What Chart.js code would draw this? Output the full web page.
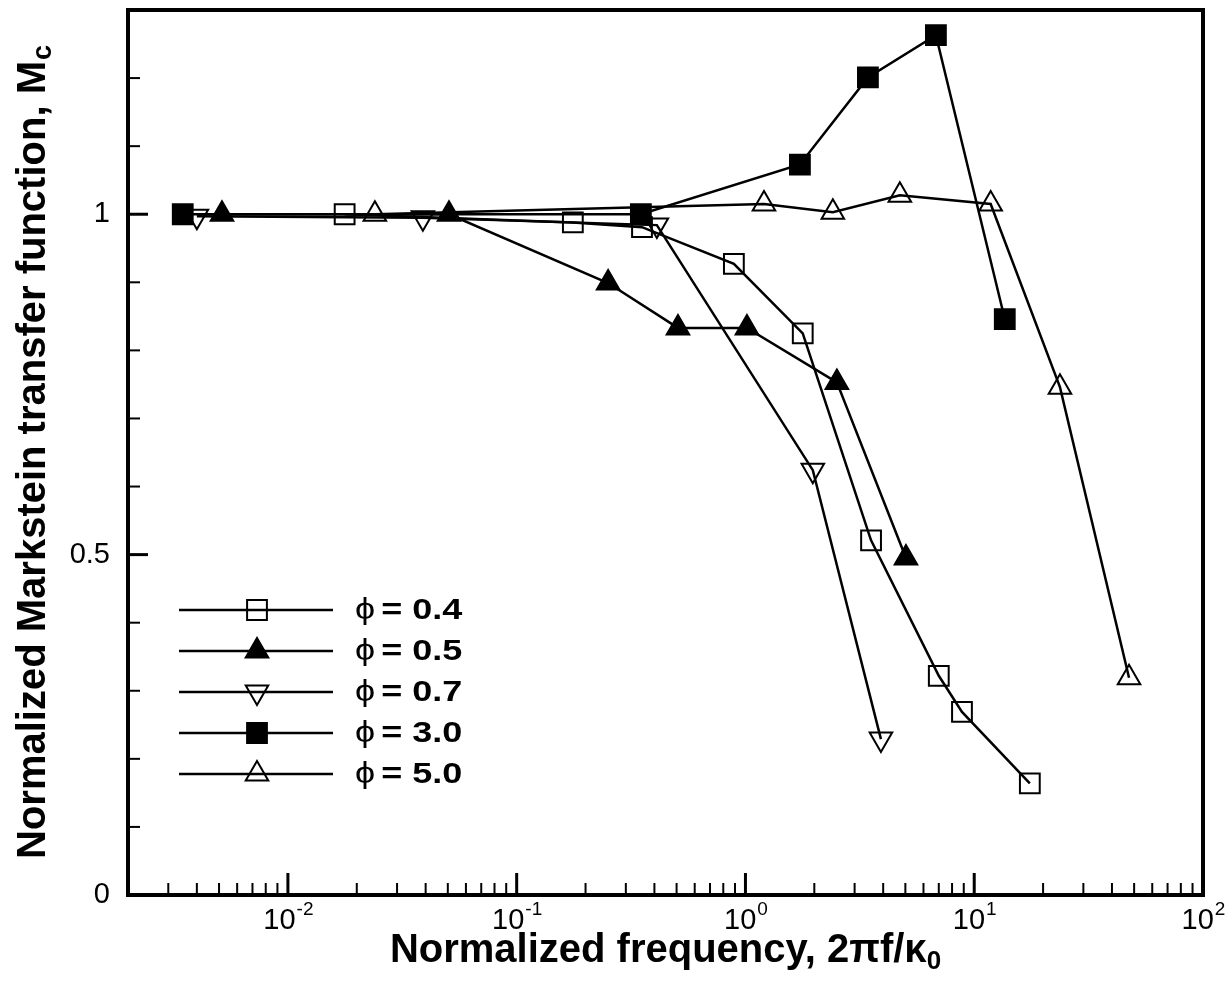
<!DOCTYPE html>
<html lang="en">
<head>
<meta charset="UTF-8">
<title>Normalized Markstein transfer function</title>
<script src="https://cdn.jsdelivr.net/npm/chart.js"></script>
<style>
    body {
        margin: 0;
        background: white;
    }

    .chart-container {
        width: 1232px;
        height: 984px;
    }
</style>
</head>
<body>
<div class="chart-container">
    <canvas id="mcChart" width="1232" height="984"></canvas>
</div>

<script>
    // values (x = 2*pi*f/kappa0, y = Mc)
    const phiLabels = ["0.4", "0.5", "0.7", "3.0", "5.0"];

    const freq04 = [0.0177, 0.176, 0.353, 0.89, 1.78, 3.54, 7.0, 8.84, 17.5];
    const mc04   = [1.0, 0.988, 0.981, 0.927, 0.825, 0.521, 0.322, 0.269, 0.164];

    const freq05 = [0.00515, 0.0506, 0.251, 0.507, 1.015, 2.51, 5.03];
    const mc05   = [1.0, 1.0, 0.899, 0.833, 0.833, 0.753, 0.495];

    const freq07 = [0.0040, 0.0389, 0.41, 1.97, 3.91];
    const mc07   = [0.997, 0.995, 0.984, 0.624, 0.229];

    const freq30 = [0.00347, 0.349, 1.73, 3.43, 6.8, 13.6];
    const mc30   = [1.0, 1.0, 1.073, 1.201, 1.263, 0.846];

    const freq50 = [0.024, 1.205, 2.41, 4.73, 11.8, 23.7, 47.5];
    const mc50   = [1.0, 1.015, 1.003, 1.028, 1.015, 0.746, 0.319];

    const xExponents = [-2, -1, 0, 1, 2];
    const yTickLabels = ["0", "0.5", "1"];

    const FONT = "'Liberation Sans', Arial, Helvetica, sans-serif";

    function pts(xs, ys) {
        return xs.map((v, i) => ({ x: v, y: ys[i] }));
    }

    function series(i, xs, ys, style, filled, rotation, radius) {
        return {
            label: "\u03d5 = " + phiLabels[i],
            data: pts(xs, ys),
            borderColor: "black",
            borderWidth: 2.5,
            pointStyle: style,
            pointRotation: rotation,
            pointRadius: radius,
            pointBorderWidth: 2,
            pointBorderColor: "black",
            pointBackgroundColor: filled ? "black" : "rgba(0,0,0,0)",
            fill: false,
            tension: 0
        };
    }

    // ticks, frame, labels, titles and the inset legend
    const framePlugin = {
        id: "frame",
        afterDatasetsDraw(chart) {
            const ctx = chart.ctx;
            const a = chart.chartArea;
            const xs = chart.scales.x;
            const ys = chart.scales.y;
            ctx.save();
            ctx.strokeStyle = "black";
            ctx.fillStyle = "black";

            // x ticks, pointing in
            for (let d = -3; d <= 2; d++) {
                for (let m = 1; m <= 9; m++) {
                    const v = m * Math.pow(10, d);
                    if (v < xs.min * 0.999 || v > xs.max * 1.001) continue;
                    const px = xs.getPixelForValue(v);
                    ctx.lineWidth = m === 1 ? 3 : 2;
                    const len = m === 1 ? 22 : 12;
                    ctx.beginPath();
                    ctx.moveTo(px, a.bottom);
                    ctx.lineTo(px, a.bottom - len);
                    ctx.stroke();
                }
            }

            // y ticks
            for (let k = 0; k <= 13; k++) {
                const v = k / 10;
                const py = ys.getPixelForValue(v);
                const major = k % 5 === 0;
                ctx.lineWidth = major ? 3 : 2;
                ctx.beginPath();
                ctx.moveTo(a.left, py);
                ctx.lineTo(a.left + (major ? 20 : 12), py);
                ctx.stroke();
            }

            // frame
            ctx.lineWidth = 4;
            ctx.strokeRect(a.left, a.top, a.right - a.left, a.bottom - a.top);

            // x tick labels 10^n
            ctx.textBaseline = "alphabetic";
            ctx.textAlign = "left";
            xExponents.forEach(e => {
                const px = xs.getPixelForValue(Math.pow(10, e));
                ctx.font = "29px " + FONT;
                const w1 = ctx.measureText("10").width;
                const ex = e < 0 ? "-" + (-e) : String(e);
                ctx.font = "19px " + FONT;
                const w2 = ctx.measureText(ex).width;
                const x0 = px - (w1 + w2) / 2;
                ctx.font = "29px " + FONT;
                ctx.fillText("10", x0, a.bottom + 34);
                ctx.font = "19px " + FONT;
                ctx.fillText(ex, x0 + w1 + 1, a.bottom + 20);
            });

            // y tick labels
            ctx.font = "29px " + FONT;
            ctx.textAlign = "right";
            ctx.textBaseline = "middle";
            yTickLabels.forEach(t => {
                ctx.fillText(t, a.left - 18, ys.getPixelForValue(parseFloat(t)));
            });

            // x axis title
            ctx.textAlign = "left";
            ctx.textBaseline = "alphabetic";
            const xt = "Normalized frequency, 2\u03c0f/\u03ba";
            ctx.font = "bold 40px " + FONT;
            const xw = ctx.measureText(xt).width;
            ctx.font = "bold 26px " + FONT;
            const xsw = ctx.measureText("0").width;
            const xStart = (a.left + a.right) / 2 - (xw + xsw) / 2;
            ctx.font = "bold 40px " + FONT;
            ctx.fillText(xt, xStart, 962);
            ctx.font = "bold 26px " + FONT;
            ctx.fillText("0", xStart + xw, 969);

            // y axis title
            ctx.save();
            ctx.translate(45, (a.top + a.bottom) / 2);
            ctx.rotate(-Math.PI / 2);
            const yt = "Normalized Markstein transfer function, M";
            ctx.font = "bold 40px " + FONT;
            const yw = ctx.measureText(yt).width;
            ctx.font = "bold 27px " + FONT;
            const ysw = ctx.measureText("c").width;
            const yStart = -(yw + ysw) / 2;
            ctx.font = "bold 40px " + FONT;
            ctx.fillText(yt, yStart, 0);
            ctx.font = "bold 27px " + FONT;
            ctx.fillText("c", yStart + yw + 1, 6);
            ctx.restore();

            // legend inside the plot
            chart.data.datasets.forEach((ds, i) => {
                const ly = 610 + i * 41;
                ctx.strokeStyle = "black";
                ctx.lineWidth = ds.borderWidth;
                ctx.beginPath();
                ctx.moveTo(179, ly);
                ctx.lineTo(333, ly);
                ctx.stroke();
                ctx.fillStyle = ds.pointBackgroundColor;
                ctx.lineWidth = ds.pointBorderWidth;
                Chart.helpers.drawPoint(ctx, {
                    pointStyle: ds.pointStyle,
                    rotation: ds.pointRotation,
                    radius: ds.pointRadius,
                    borderWidth: ds.pointBorderWidth
                }, 257, ly);

                ctx.save();
                ctx.translate(355, ly + 1);
                ctx.scale(1.2, 1);
                ctx.fillStyle = "black";
                ctx.textAlign = "left";
                ctx.textBaseline = "middle";
                ctx.font = "30px " + FONT;
                ctx.fillText("\u03d5", 0, 0);
                const pw = ctx.measureText("\u03d5").width;
                ctx.font = "bold 30px " + FONT;
                ctx.fillText("= " + phiLabels[i], pw + 5, 0);
                ctx.restore();
            });

            ctx.restore();
        }
    };

    const ctx = document.getElementById("mcChart").getContext("2d");
    const mcChart = new Chart(ctx, {
        type: "line",
        data: {
            datasets: [
                series(0, freq04, mc04, "rect", false, 0, 14),
                series(1, freq05, mc05, "triangle", true, 0, 13),
                series(2, freq07, mc07, "triangle", false, 180, 13),
                series(3, freq30, mc30, "rect", true, 0, 14),
                series(4, freq50, mc50, "triangle", false, 0, 13)
            ]
        },
        options: {
            responsive: false,
            animation: false,
            devicePixelRatio: 1,
            layout: {
                autoPadding: false,
                padding: { left: 128, right: 29, top: 10, bottom: 89 }
            },
            scales: {
                x: {
                    type: "logarithmic",
                    min: 0.002,
                    max: 100,
                    display: false
                },
                y: {
                    type: "linear",
                    min: 0,
                    max: 1.3,
                    display: false
                }
            },
            plugins: {
                legend: { display: false },
                tooltip: { enabled: false }
            }
        },
        plugins: [framePlugin]
    });
</script>
</body>
</html>
